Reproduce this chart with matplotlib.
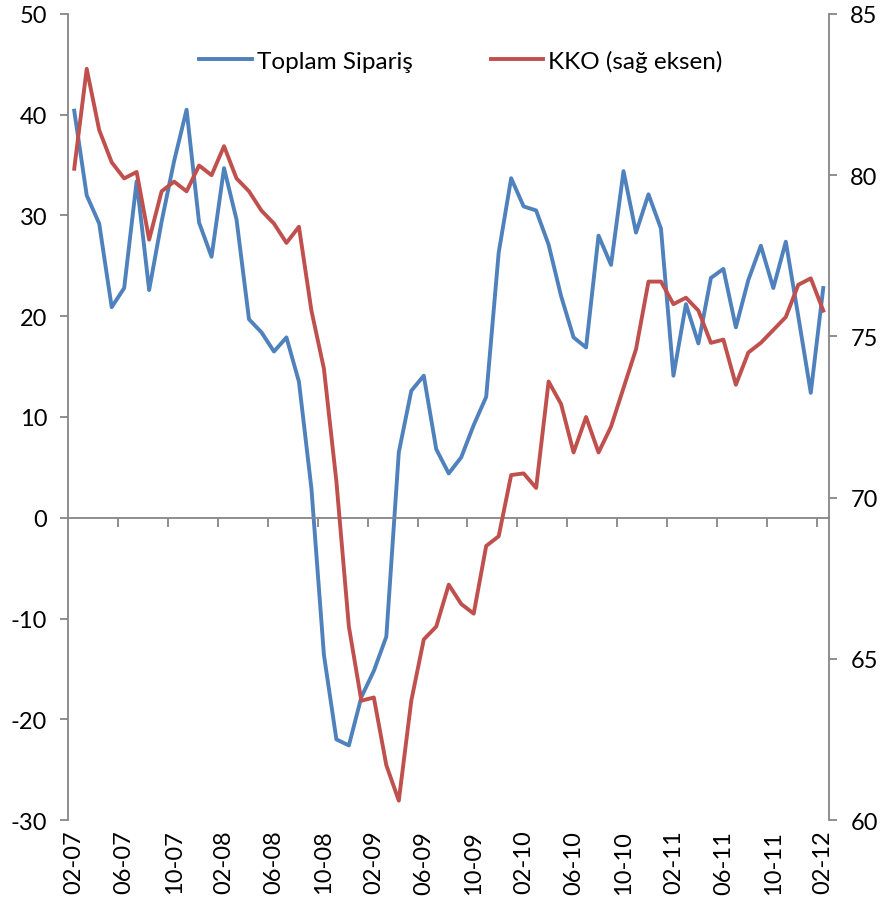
import numpy as np
import pandas as pd
import matplotlib
matplotlib.use("Agg")
import matplotlib.pyplot as plt

plt.rcParams['font.family'] = ['Lato', 'DejaVu Sans']
plt.rcParams['axes.unicode_minus'] = False

# aylik etiketler 02-07 ... 02-12
aylar = list(pd.period_range("2007-02", "2012-02", freq="M").strftime("%m-%y"))

# Toplam Siparis (sol eksen)
siparis = [40.4, 32.0, 29.2, 20.9, 22.8, 33.4, 22.6, 29.4, 35.4, 40.5,
           29.3, 25.9, 34.7, 29.6, 19.7, 18.4, 16.5, 17.9, 13.5, 2.9,
           -13.6, -22.0, -22.6, -17.8, -15.2, -11.8, 6.5, 12.6, 14.1, 6.8,
           4.4, 6.0, 9.2, 12.0, 26.3, 33.7, 30.9, 30.5, 27.1, 22.0,
           17.9, 16.9, 28.0, 25.1, 34.4, 28.3, 32.1, 28.7, 14.1, 21.2,
           17.3, 23.8, 24.7, 18.9, 23.6, 27.0, 22.8, 27.4, 20.0, 12.4, 22.8]

# KKO (sag eksen)
kko = [80.2, 83.3, 81.4, 80.4, 79.9, 80.1, 78.0, 79.5, 79.8, 79.5,
       80.3, 80.0, 80.9, 79.9, 79.5, 78.9, 78.5, 77.9, 78.4, 75.8,
       74.0, 70.5, 66.0, 63.7, 63.8, 61.7, 60.6, 63.7, 65.6, 66.0,
       67.3, 66.7, 66.4, 68.5, 68.8, 70.7, 70.75, 70.3, 73.6, 72.9,
       71.4, 72.5, 71.4, 72.2, 73.4, 74.6, 76.7, 76.7, 76.0, 76.2,
       75.8, 74.8, 74.9, 73.5, 74.5, 74.8, 75.2, 75.6, 76.6, 76.8, 75.8]

sol_ticks = [-30, -20, -10, 0, 10, 20, 30, 40, 50]
sag_ticks = [60, 65, 70, 75, 80, 85]

x = np.arange(len(aylar))
grey = "#868686"
fs = 17

fig = plt.figure(figsize=(8.83, 9.03), dpi=100)
ax = fig.add_axes([0.077, 0.0908, 0.8624, 0.8926])

l1, = ax.plot(x, siparis, color="#4F81BD", lw=2.8, label="Toplam Sipariş")
ax.set_xlim(-0.5, len(aylar) - 0.5)
ax.set_ylim(-30, 50)
ax.set_yticks(sol_ticks)

# x ekseni sifir cizgisinde
ax.spines['bottom'].set_position(('data', 0))
for s in ['top', 'right']:
    ax.spines[s].set_visible(False)
for s in ['left', 'bottom']:
    ax.spines[s].set_color(grey)
    ax.spines[s].set_linewidth(1.3)
ax.set_xticks(np.arange(3.5, len(aylar) - 0.5, 4))
ax.tick_params(axis='x', direction='out', length=6.5, width=1.3, color=grey, labelbottom=False)
ax.tick_params(axis='y', direction='out', length=6, width=1.3, color=grey, labelsize=fs, pad=9)

# etiketler alt kenarda
sec = ax.secondary_xaxis('bottom')
sec.set_xticks(x[::4])
sec.set_xticklabels(aylar[::4], rotation=90)
sec.tick_params(length=0, labelsize=fs, pad=7)
sec.spines['bottom'].set_visible(False)

ax2 = ax.twinx()
l2, = ax2.plot(x, kko, color="#C0504D", lw=2.8, label="KKO (sağ eksen)")
ax2.set_ylim(60, 85)
ax2.set_yticks(sag_ticks)
for s in ['top', 'left', 'bottom']:
    ax2.spines[s].set_visible(False)
ax2.spines['right'].set_color(grey)
ax2.spines['right'].set_linewidth(1.3)
ax2.tick_params(axis='y', direction='out', length=6, width=1.3, color=grey, labelsize=fs, pad=9)

ax2.legend(handles=[l1, l2], loc='center', bbox_to_anchor=(0.516, 0.942), ncol=2,
           frameon=False, fontsize=fs + 0.5, handlelength=2.15, handletextpad=0.22, columnspacing=3.2)

fig.savefig("out.png", dpi=100)
